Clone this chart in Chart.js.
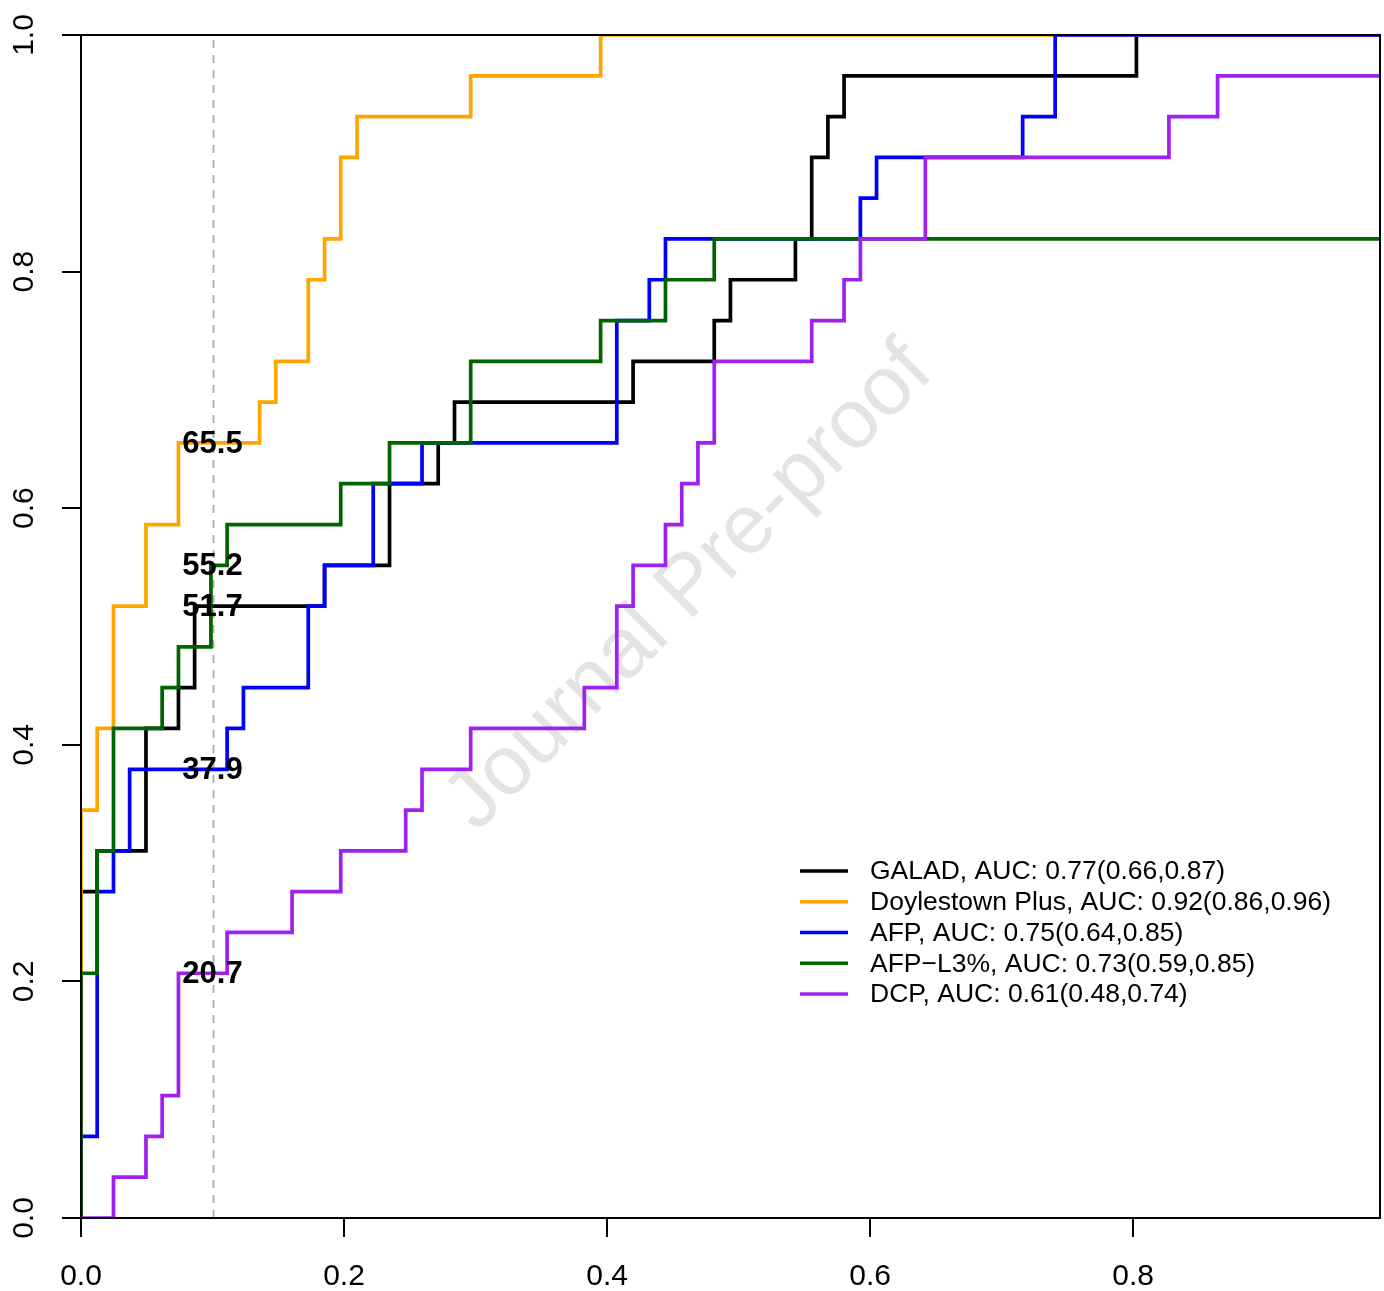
<!DOCTYPE html>
<html>
<head>
<meta charset="utf-8">
<script src="https://cdn.jsdelivr.net/npm/chart.js@4.4.0/dist/chart.umd.min.js"></script>
<style>
  html, body { margin: 0; padding: 0; background: #fff; }
  #rocChart { display: block; }
</style>
</head>
<body>
<canvas id="rocChart" width="1384" height="1291"></canvas>
<script>
// ROC curves, points are the corners reached after each rise (1 - specificity, sensitivity)
var seriesNames = ["GALAD", "Doylestown Plus", "AFP", "AFP\u2212L3%", "DCP"];
var seriesColors = ["#000000", "#FFA500", "#0000FF", "#006400", "#A020F0"];
var aucText = ["0.77(0.66,0.87)", "0.92(0.86,0.96)", "0.75(0.64,0.85)", "0.73(0.59,0.85)", "0.61(0.48,0.74)"];

var galadFpr = [0, 0, 0.0123, 0.0494, 0.0741, 0.0864, 0.1852, 0.2346, 0.2716, 0.2840, 0.4198, 0.4815, 0.4938, 0.5432, 0.5556, 0.5679, 0.5802, 0.8025, 0.9877];
var galadTpr = [0, 0.2759, 0.3103, 0.4138, 0.4483, 0.5172, 0.5517, 0.6207, 0.6552, 0.6897, 0.7241, 0.7586, 0.7931, 0.8276, 0.8966, 0.9310, 0.9655, 1, 1];

var doylFpr = [0, 0, 0.0123, 0.0247, 0.0494, 0.0741, 0.1358, 0.1481, 0.1728, 0.1852, 0.1975, 0.2099, 0.2963, 0.3951, 0.9877];
var doylTpr = [0, 0.3448, 0.4138, 0.5172, 0.5862, 0.6552, 0.6897, 0.7241, 0.7931, 0.8276, 0.8966, 0.9310, 0.9655, 1, 1];

var afpFpr = [0, 0, 0.0123, 0.0247, 0.0370, 0.1111, 0.1235, 0.1728, 0.1852, 0.2222, 0.2593, 0.4074, 0.4321, 0.4444, 0.5926, 0.6049, 0.7160, 0.7407, 0.9877];
var afpTpr = [0, 0.0690, 0.2759, 0.3103, 0.3793, 0.4138, 0.4483, 0.5172, 0.5517, 0.6207, 0.6552, 0.7586, 0.7931, 0.8276, 0.8621, 0.8966, 0.9310, 1, 1];

var afpl3Fpr = [0, 0, 0.0123, 0.0247, 0.0617, 0.0741, 0.0988, 0.1111, 0.1975, 0.2346, 0.2963, 0.3951, 0.4444, 0.4815, 0.9877];
var afpl3Tpr = [0, 0.2069, 0.3103, 0.4138, 0.4483, 0.4828, 0.5517, 0.5862, 0.6207, 0.6552, 0.7241, 0.7586, 0.7931, 0.8276, 0.8276];

var dcpFpr = [0, 0.0247, 0.0494, 0.0617, 0.0741, 0.1111, 0.1605, 0.1975, 0.2469, 0.2593, 0.2963, 0.3827, 0.4074, 0.4198, 0.4444, 0.4568, 0.4691, 0.4815, 0.5556, 0.5802, 0.5926, 0.6420, 0.8272, 0.8642, 0.9877];
var dcpTpr = [0, 0.0345, 0.0690, 0.1034, 0.2069, 0.2414, 0.2759, 0.3103, 0.3448, 0.3793, 0.4138, 0.4483, 0.5172, 0.5517, 0.5862, 0.6207, 0.6552, 0.7241, 0.7586, 0.7931, 0.8276, 0.8966, 0.9310, 0.9655, 0.9655];

// sensitivity (%) at the 10% false positive cut-off, same order as seriesNames
var cutoffFpr = 0.1;
var cutoffSens = ["51.7", "65.5", "37.9", "55.2", "20.7"];

var xTicks = [0, 0.2, 0.4, 0.6, 0.8];
var yTicks = [0, 0.2, 0.4, 0.6, 0.8, 1.0];
var xMax = 0.9877;

var FONT = "'Liberation Sans', Arial, Helvetica, sans-serif";

var allFpr = [galadFpr, doylFpr, afpFpr, afpl3Fpr, dcpFpr];
var allTpr = [galadTpr, doylTpr, afpTpr, afpl3Tpr, dcpTpr];

var datasets = seriesNames.map(function(name, i) {
    return {
        label: name,
        data: allFpr[i].map(function(x, j) { return { x: x, y: allTpr[i][j] }; }),
        showLine: true,
        stepped: 'before',
        borderColor: seriesColors[i],
        backgroundColor: seriesColors[i],
        borderWidth: 3.7,
        pointRadius: 0,
        fill: false,
        order: seriesNames.length - i   // later series painted on top, like R
    };
});

var rocDecor = {
    id: 'rocDecor',
    beforeDatasetsDraw: function(chart) {
        var ctx = chart.ctx, xs = chart.scales.x, ys = chart.scales.y, a = chart.chartArea;
        // watermark
        ctx.save();
        ctx.translate(xs.getPixelForValue(0.463), ys.getPixelForValue(0.533));
        ctx.rotate(-Math.PI / 4);
        ctx.fillStyle = "#E4E4E4";
        ctx.font = "84px " + FONT;
        ctx.textAlign = "center";
        ctx.textBaseline = "middle";
        ctx.fillText("Journal Pre-proof", 0, 0);
        ctx.restore();
        // cut-off line
        ctx.save();
        ctx.strokeStyle = "#AAAAAA";
        ctx.lineWidth = 1.8;
        ctx.setLineDash([8, 7]);
        var px = Math.round(xs.getPixelForValue(cutoffFpr)) + 0.5;
        ctx.beginPath();
        ctx.moveTo(px, a.bottom);
        ctx.lineTo(px, a.top);
        ctx.stroke();
        ctx.restore();
    },
    afterDatasetsDraw: function(chart) {
        var ctx = chart.ctx, xs = chart.scales.x, ys = chart.scales.y, a = chart.chartArea;
        ctx.save();
        ctx.fillStyle = "#000";
        ctx.font = "bold 31px " + FONT;
        ctx.textAlign = "center";
        ctx.textBaseline = "middle";
        cutoffSens.forEach(function(s) {
            ctx.fillText(s, xs.getPixelForValue(cutoffFpr), ys.getPixelForValue(parseFloat(s) / 100) + 1);
        });
        ctx.restore();

        // legend
        ctx.save();
        ctx.font = "26.5px " + FONT;
        ctx.textAlign = "left";
        ctx.textBaseline = "middle";
        seriesNames.forEach(function(name, i) {
            var y = 871 + i * 30.75;
            ctx.strokeStyle = seriesColors[i];
            ctx.lineWidth = 3.7;
            ctx.beginPath();
            ctx.moveTo(800, y);
            ctx.lineTo(848, y);
            ctx.stroke();
            ctx.fillStyle = "#000";
            ctx.fillText(name + ", AUC: " + aucText[i], 870, y + 1);
        });
        ctx.restore();
    },
    afterDraw: function(chart) {
        var ctx = chart.ctx, ys = chart.scales.y, a = chart.chartArea;
        // box
        ctx.save();
        ctx.strokeStyle = "#000";
        ctx.lineWidth = 2;
        ctx.strokeRect(Math.round(a.left), Math.round(a.top), Math.round(a.right - a.left), Math.round(a.bottom - a.top));
        ctx.restore();
        // rotated y labels
        ctx.save();
        ctx.fillStyle = "#000";
        ctx.font = "30px " + FONT;
        ctx.textAlign = "center";
        ctx.textBaseline = "middle";
        yTicks.forEach(function(v) {
            ctx.save();
            ctx.translate(25, ys.getPixelForValue(v));
            ctx.rotate(-Math.PI / 2);
            ctx.fillText(v.toFixed(1), 0, 0);
            ctx.restore();
        });
        ctx.restore();
    }
};

var rocChart = new Chart(document.getElementById("rocChart").getContext("2d"), {
    type: 'scatter',
    data: { datasets: datasets },
    options: {
        responsive: false,
        animation: false,
        devicePixelRatio: 1,
        layout: { padding: { top: 35, right: 4, left: 0, bottom: 0 } },
        plugins: {
            legend: { display: false },
            tooltip: { enabled: false }
        },
        scales: {
            x: {
                type: 'linear',
                min: 0,
                max: xMax,
                afterBuildTicks: function(scale) {
                    scale.ticks = xTicks.map(function(v) { return { value: v }; });
                },
                afterFit: function(scale) { scale.height = 73; },
                grid: { display: true, drawOnChartArea: false, drawTicks: true, tickLength: 19, color: "#000", lineWidth: 2 },
                border: { display: true, color: "#000", width: 2 },
                ticks: {
                    color: "#000",
                    font: { size: 30, family: FONT },
                    padding: 22,
                    autoSkip: false,
                    maxRotation: 0,
                    callback: function(v) { return Number(v).toFixed(1); }
                }
            },
            y: {
                type: 'linear',
                min: 0,
                max: 1,
                afterBuildTicks: function(scale) {
                    scale.ticks = yTicks.map(function(v) { return { value: v }; });
                },
                afterFit: function(scale) { scale.width = 81; },
                grid: { display: true, drawOnChartArea: false, drawTicks: true, tickLength: 19, color: "#000", lineWidth: 2 },
                border: { display: true, color: "#000", width: 2 },
                ticks: { display: false }
            }
        }
    },
    plugins: [rocDecor]
});
</script>
</body>
</html>
